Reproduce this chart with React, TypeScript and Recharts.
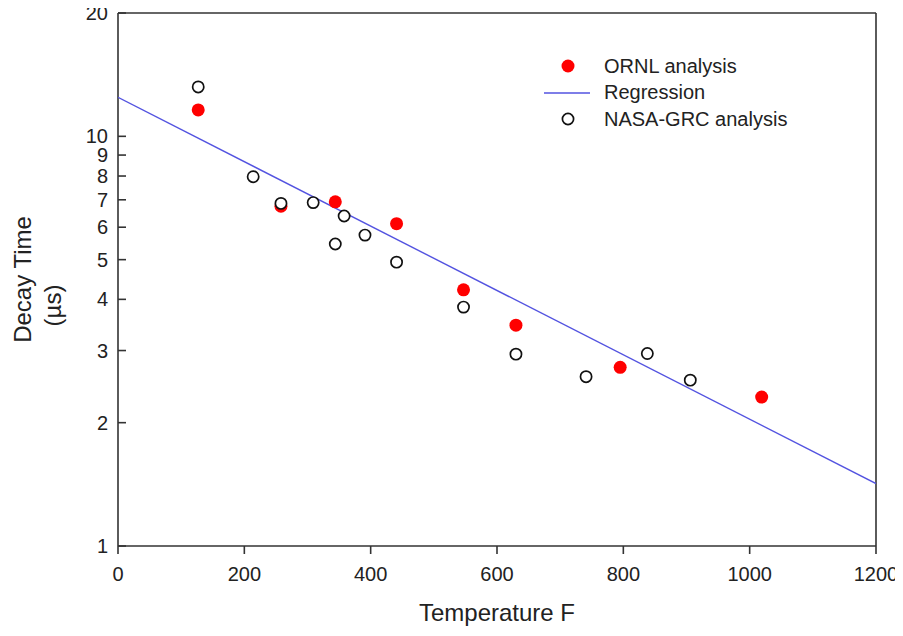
import React from "react";
import {
  ScatterChart,
  Scatter,
  XAxis,
  YAxis,
  Legend,
  Label,
} from "recharts";

const FONT = '"Liberation Sans", Arial, sans-serif';
const RED = "#ff0000";
const BLUE = "#5353e0";
const AXIS = "#333";

// ORNL analysis (filled red)
const ornlTemp = [127, 258, 344, 441, 547, 630, 795, 1019];
const ornlDecay = [11.6, 6.75, 6.92, 6.12, 4.22, 3.46, 2.73, 2.31];

// NASA-GRC analysis (open circles)
const nasaTemp = [127, 214, 258, 309, 358, 344, 391, 441, 547, 630, 741, 838, 906];
const nasaDecay = [13.2, 7.97, 6.86, 6.89, 6.39, 5.46, 5.74, 4.93, 3.83, 2.94, 2.59, 2.95, 2.54];

// regression line end points
const regTemp = [0, 1200];
const regDecay = [12.45, 1.42];

const xTicks = [0, 200, 400, 600, 800, 1000, 1200];
const yTicks = [1, 2, 3, 4, 5, 6, 7, 8, 9, 10, 20];

const toPoints = (xs: number[], ys: number[]) => xs.map((x, i) => ({ x, y: ys[i] }));

const ornlData = toPoints(ornlTemp, ornlDecay);
const nasaData = toPoints(nasaTemp, nasaDecay);
const regData = toPoints(regTemp, regDecay);

const RedDot = (p: any) => <circle cx={p.cx} cy={p.cy} r={6.5} fill={RED} />;
const OpenDot = (p: any) => (
  <circle cx={p.cx} cy={p.cy} r={5.6} fill="#fff" stroke="#111" strokeWidth={1.7} />
);
const NoDot = () => <g />;

const legendRows = [
  { name: "ORNL analysis", kind: "dot" },
  { name: "Regression", kind: "line" },
  { name: "NASA-GRC analysis", kind: "open" },
];

function LegendBox() {
  return (
    <div style={{ fontFamily: FONT, fontSize: 20, color: "#222" }}>
      {legendRows.map((r) => (
        <div key={r.name} style={{ display: "flex", alignItems: "center", height: 26.5 }}>
          <svg width={56} height={26} style={{ display: "block" }}>
            {r.kind === "dot" && <circle cx={28} cy={13} r={6.5} fill={RED} />}
            {r.kind === "line" && <line x1={4} x2={50} y1={13} y2={13} stroke={BLUE} strokeWidth={1.4} />}
            {r.kind === "open" && (
              <circle cx={28} cy={13} r={5.6} fill="#fff" stroke="#111" strokeWidth={1.7} />
            )}
          </svg>
          <span style={{ marginLeft: 8, whiteSpace: "nowrap" }}>{r.name}</span>
        </div>
      ))}
    </div>
  );
}

function YTitle(props: any) {
  const vb = props.viewBox;
  const cx1 = vb.x - 36;
  const cy1 = vb.y + vb.height / 2;
  const cx2 = vb.x - 6;
  const cy2 = cy1 + 26;
  return (
    <g fontFamily={FONT} fontSize={24} fill="#222">
      <text x={cx1} y={cy1} textAnchor="middle" dominantBaseline="central" transform={`rotate(-90, ${cx1}, ${cy1})`}>
        Decay Time
      </text>
      <text x={cx2} y={cy2} textAnchor="middle" dominantBaseline="central" transform={`rotate(-90, ${cx2}, ${cy2})`}>
        (µs)
      </text>
    </g>
  );
}

function XTitle(props: any) {
  const vb = props.viewBox;
  return (
    <text
      x={vb.x + vb.width / 2}
      y={vb.y + 66}
      textAnchor="middle"
      dominantBaseline="central"
      fontFamily={FONT}
      fontSize={24}
      fill="#222"
    >
      Temperature F
    </text>
  );
}

export default function App() {
  const tickStyle = { fontFamily: FONT, fontSize: 20, fill: "#222" };
  return (
    <div style={{ margin: -8, width: 903, height: 636 }}>
      <ScatterChart
        width={903}
        height={636}
        margin={{ top: 12, right: 26, bottom: 30, left: 58 }}
        style={{ overflow: "visible" }}
      >
        <XAxis
          type="number"
          dataKey="x"
          domain={[0, 1200]}
          ticks={xTicks}
          interval={0}
          allowDataOverflow
          height={60}
          stroke={AXIS}
          strokeWidth={1.6}
          tickSize={8}
          tickMargin={13}
          tick={tickStyle}
        >
          <Label content={<XTitle />} />
        </XAxis>
        <XAxis
          xAxisId="top"
          orientation="top"
          type="number"
          domain={[0, 1200]}
          height={1}
          tick={false}
          tickLine={false}
          stroke={AXIS}
          strokeWidth={1.6}
        />
        <YAxis
          type="number"
          dataKey="y"
          scale="log"
          domain={[1, 20]}
          ticks={yTicks}
          interval={0}
          allowDataOverflow
          width={60}
          stroke={AXIS}
          strokeWidth={1.6}
          tickSize={-8}
          tickMargin={18}
          tick={tickStyle}
        >
          <Label content={<YTitle />} />
        </YAxis>
        <YAxis
          yAxisId="right"
          orientation="right"
          type="number"
          scale="log"
          domain={[1, 20]}
          ticks={yTicks}
          interval={0}
          allowDataOverflow
          width={1}
          stroke={AXIS}
          strokeWidth={1.6}
          tickSize={-8}
          tick={false}
        />
        <Scatter
          name="Regression"
          data={regData}
          line={{ stroke: BLUE, strokeWidth: 1.4 }}
          shape={NoDot}
          isAnimationActive={false}
        />
        <Scatter name="ORNL analysis" data={ornlData} shape={RedDot} isAnimationActive={false} />
        <Scatter name="NASA-GRC analysis" data={nasaData} shape={OpenDot} isAnimationActive={false} />
        <Legend
          layout="vertical"
          align="center"
          verticalAlign="middle"
          content={() => <LegendBox />}
          wrapperStyle={{ top: 53, left: 540, width: "auto" }}
        />
      </ScatterChart>
    </div>
  );
}
